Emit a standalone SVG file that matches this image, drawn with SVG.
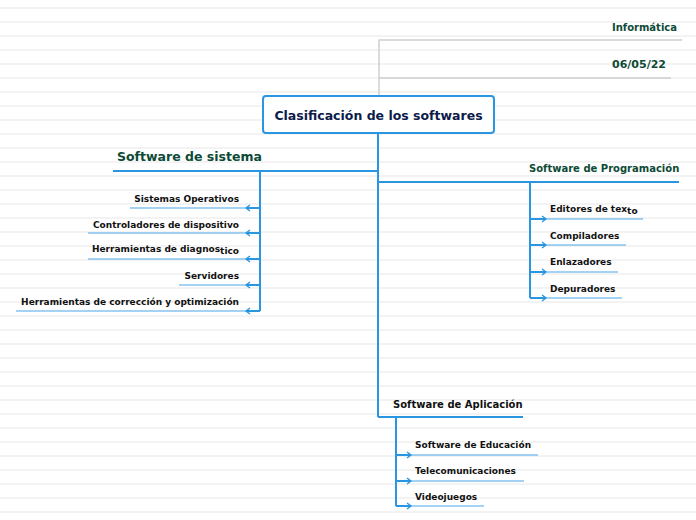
<svg xmlns="http://www.w3.org/2000/svg" width="696" height="520" viewBox="0 0 696 520">
<defs>
<style>
.bg{stroke:#f0f0f0;stroke-width:1.5}
.gray{stroke:#cfcfcf;stroke-width:1.5;fill:none}
.trunk{stroke:#2a96e2;stroke-width:2;fill:none}
.ul{stroke:#4aa6ea;stroke-width:1.2;fill:none}
.a{stroke:#2a96e2;stroke-width:2;fill:none;marker-end:url(#arr)}
.t{font-family:"DejaVu Sans",Verdana,sans-serif;font-weight:bold}
.child{font-size:9px;fill:#111}
.main{font-size:12.5px;fill:#0d4a36}
.sub{font-size:10px}
</style>
<marker id="arr" markerWidth="8" markerHeight="8" refX="5" refY="4" orient="auto" markerUnits="userSpaceOnUse">
<path d="M1,1 L5,4 L1,7" fill="none" stroke="#2a96e2" stroke-width="1.4"/>
</marker>
</defs>
<rect width="696" height="520" fill="#ffffff"/>
<g id="background">
<path class="bg" d="M0,8H696M0,22H696M0,36H696M0,50H696M0,64H696M0,78H696M0,92H696M0,106H696M0,120H696M0,134H696M0,148H696M0,162H696M0,176H696M0,190H696M0,204H696M0,218H696M0,232H696M0,246H696M0,260H696M0,274H696M0,288H696M0,302H696M0,316H696M0,330H696M0,344H696M0,358H696M0,372H696M0,386H696M0,400H696M0,414H696M0,428H696M0,442H696M0,456H696M0,470H696M0,484H696M0,498H696M0,512H696"/>
</g>
<g id="connectors">
<path class="gray" d="M379,96V40H682M379,78H671"/>
<path class="trunk" d="M378,133V417M378,171H113M378,182H679M378,417H523"/>
<path class="trunk" d="M260,171V311M530,182V298M396,417V506"/>
<path class="a" d="M260,208H246"/>
<path class="a" d="M260,233H246"/>
<path class="a" d="M260,259H246"/>
<path class="a" d="M260,285H246"/>
<path class="a" d="M260,311H246"/>
<path class="a" d="M530,219H546"/>
<path class="a" d="M530,245H546"/>
<path class="a" d="M530,272H546"/>
<path class="a" d="M530,298H546"/>
<path class="a" d="M396,455H411"/>
<path class="a" d="M396,481H411"/>
<path class="a" d="M396,506H411"/>
<path class="ul" d="M246,208H130M246,233H88M246,259H88M246,285H179M246,311H16"/>
<path class="ul" d="M546,219H643M546,245H626M546,272H618M546,298H622"/>
<path class="ul" d="M411,455H538M411,481H524M411,506H484"/>
</g>
<g id="info">
<text class="t sub" x="677" y="31" text-anchor="end" fill="#0d4a36">Informática</text>
<text class="t" x="612" y="68" font-size="11" fill="#0d4a36">06/05/22</text>
</g>
<g id="root">
<rect x="263" y="96" width="231" height="37" rx="3" fill="#ffffff" stroke="#2a96e2" stroke-width="2"/>
<text class="t" x="378.5" y="120" text-anchor="middle" font-size="12.5" fill="#0d1b4b">Clasificación de los softwares</text>
</g>
<g id="software-sistema">
<text class="t main" x="117" y="161">Software de sistema</text>
</g>
<g id="sistemas-operativos"><text class="t child" x="239" y="202" text-anchor="end">Sistemas Operativos</text></g>
<g id="controladores"><text class="t child" x="239" y="228" text-anchor="end">Controladores de dispositivo</text></g>
<g id="herramientas-diag"><text class="t child" x="239" y="252" text-anchor="end">Herramientas de diagnos<tspan dy="1.5">tico</tspan></text></g>
<g id="servidores"><text class="t child" x="239" y="279" text-anchor="end">Servidores</text></g>
<g id="herramientas-corr"><text class="t child" x="239" y="305" text-anchor="end">Herramientas de corrección y optimización</text></g>
<g id="software-programacion">
<text class="t sub" x="529" y="172" fill="#0d4a36">Software de Programación</text>
</g>
<g id="editores"><text class="t child" x="550" y="212">Editores de tex<tspan dy="1.5">to</tspan></text></g>
<g id="compiladores"><text class="t child" x="550" y="239">Compiladores</text></g>
<g id="enlazadores"><text class="t child" x="550" y="265">Enlazadores</text></g>
<g id="depuradores"><text class="t child" x="550" y="292">Depuradores</text></g>
<g id="software-aplicacion">
<text class="t sub" x="393" y="408" fill="#111">Software de Aplicación</text>
</g>
<g id="educacion"><text class="t child" x="415" y="448">Software de Educación</text></g>
<g id="telecom"><text class="t child" x="415" y="474">Telecomunicaciones</text></g>
<g id="videojuegos"><text class="t child" x="415" y="500">Videojuegos</text></g>
</svg>
